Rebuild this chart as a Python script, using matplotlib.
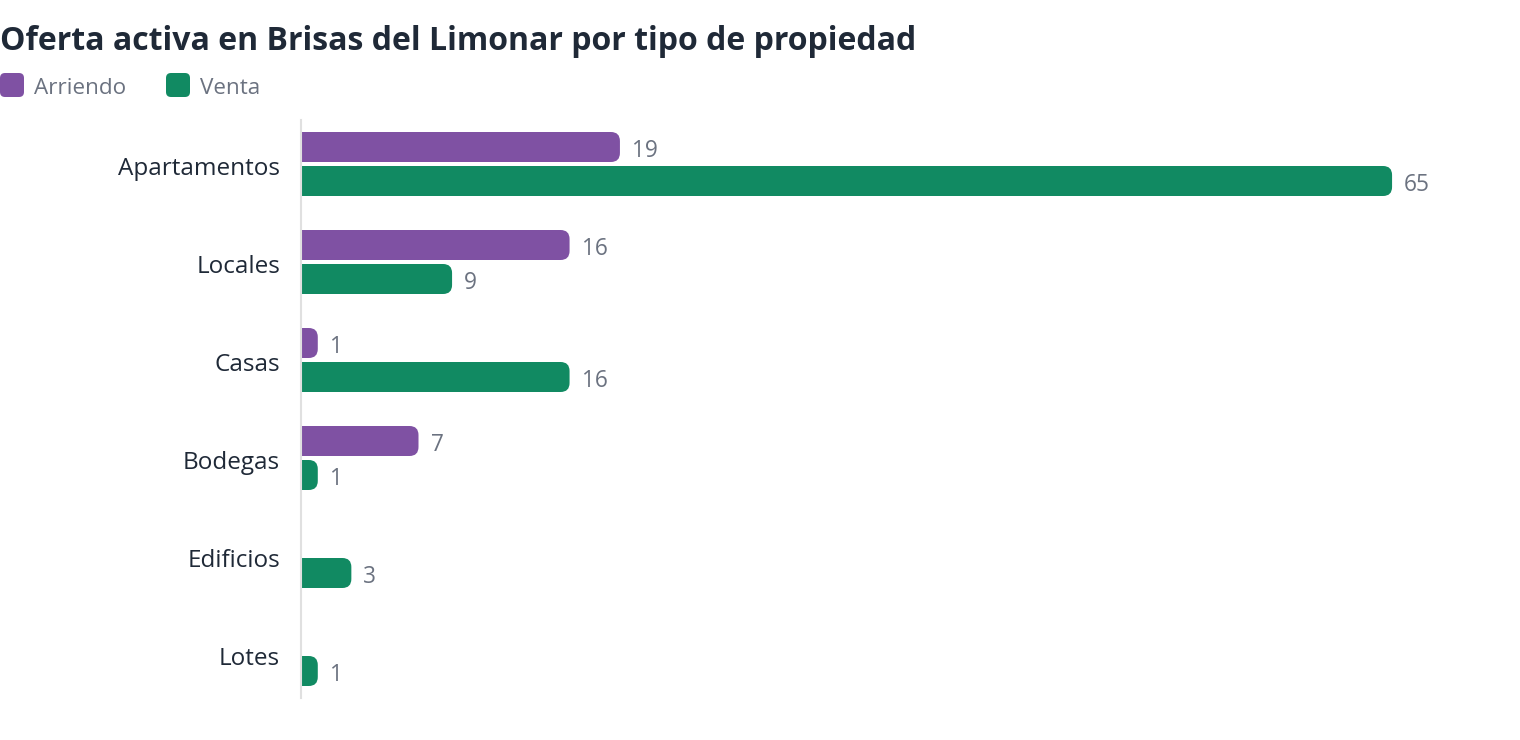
import matplotlib
matplotlib.use("Agg")
import matplotlib.pyplot as plt
from matplotlib.patches import FancyBboxPatch
import matplotlib.transforms as mtransforms
import numpy as np

plt.rcParams['font.family'] = ['Open Sans', 'DejaVu Sans']

categories = ["Apartamentos", "Locales", "Casas", "Bodegas", "Edificios", "Lotes"]
arriendo = [19, 16, 1, 7, 0, 0]
venta = [65, 9, 16, 1, 3, 1]
series_names = ["Arriendo", "Venta"]
colors = ["#7f51a3", "#118a62"]
title = "Oferta activa en Brisas del Limonar por tipo de propiedad"

W, H = 1520, 740
fig = plt.figure(figsize=(W / 100, H / 100), dpi=100)

# axes placement in pixels
ax_left, ax_right, ax_top, ax_bottom = 301, 1476, 120, 698
ax = fig.add_axes([ax_left / W, 1 - ax_bottom / H, (ax_right - ax_left) / W, (ax_bottom - ax_top) / H])

xmax = 70.0
ax.set_xlim(0, xmax)
ylo, yhi = 5.449, -0.449
ax.set_ylim(ylo, yhi)
px_x = (ax_right - ax_left) / xmax
px_y = (ax_bottom - ax_top) / (ylo - yhi)

bar_h = 30 / px_y
off = 17 / px_y
r_px = 9
rx = r_px / px_x
aspect = px_x / px_y

y = np.arange(len(categories))
for vals, dy, col in [(arriendo, -off, colors[0]), (venta, off, colors[1])]:
    for yi, v in zip(y, vals):
        if v <= 0:
            continue
        x0 = 1.0 / px_x
        p = FancyBboxPatch((x0 - 2 * rx, yi + dy - bar_h / 2), v - x0 + 2 * rx, bar_h,
                           boxstyle=f"round,pad=0,rounding_size={rx}",
                           mutation_aspect=aspect, facecolor=col, edgecolor='none',
                           clip_on=True, zorder=2)
        ax.add_patch(p)
        ax.text(v + 12 / px_x, yi + dy + 4 / px_y, f"{v}", va='center', ha='left',
                fontsize=16.3, color="#6b7280")

ax.set_yticks(y)
ax.set_yticklabels(categories, fontsize=17.5, color="#1f2937")
ax.tick_params(axis='y', length=0, pad=15)
shift = mtransforms.ScaledTranslation(0, -2 / 100, fig.dpi_scale_trans)
for lab in ax.get_yticklabels():
    lab.set_transform(lab.get_transform() + shift)
ax.set_xticks([])
for s in ['top', 'right', 'bottom']:
    ax.spines[s].set_visible(False)
ax.spines['left'].set_color('#e0e0e0')
ax.spines['left'].set_linewidth(1.5)

# title
fig.text(0, 1 - 50 / H, title, fontsize=23, fontweight='bold', color="#1f2937",
         ha='left', va='baseline')

# legend
for (name, col, lx) in [(series_names[0], colors[0], 0), (series_names[1], colors[1], 166)]:
    fig.patches.append(FancyBboxPatch((lx / W, 1 - 97 / H), 24 / W, 24 / H,
                                      boxstyle=f"round,pad=0,rounding_size={5 / W}",
                                      mutation_aspect=W / H,
                                      transform=fig.transFigure, facecolor=col,
                                      edgecolor='none', figure=fig))
    fig.text((lx + 34) / W, 1 - 88 / H, name, fontsize=16.2, color="#6b7280",
             ha='left', va='center')

fig.savefig("out.png", dpi=100, facecolor='white')
